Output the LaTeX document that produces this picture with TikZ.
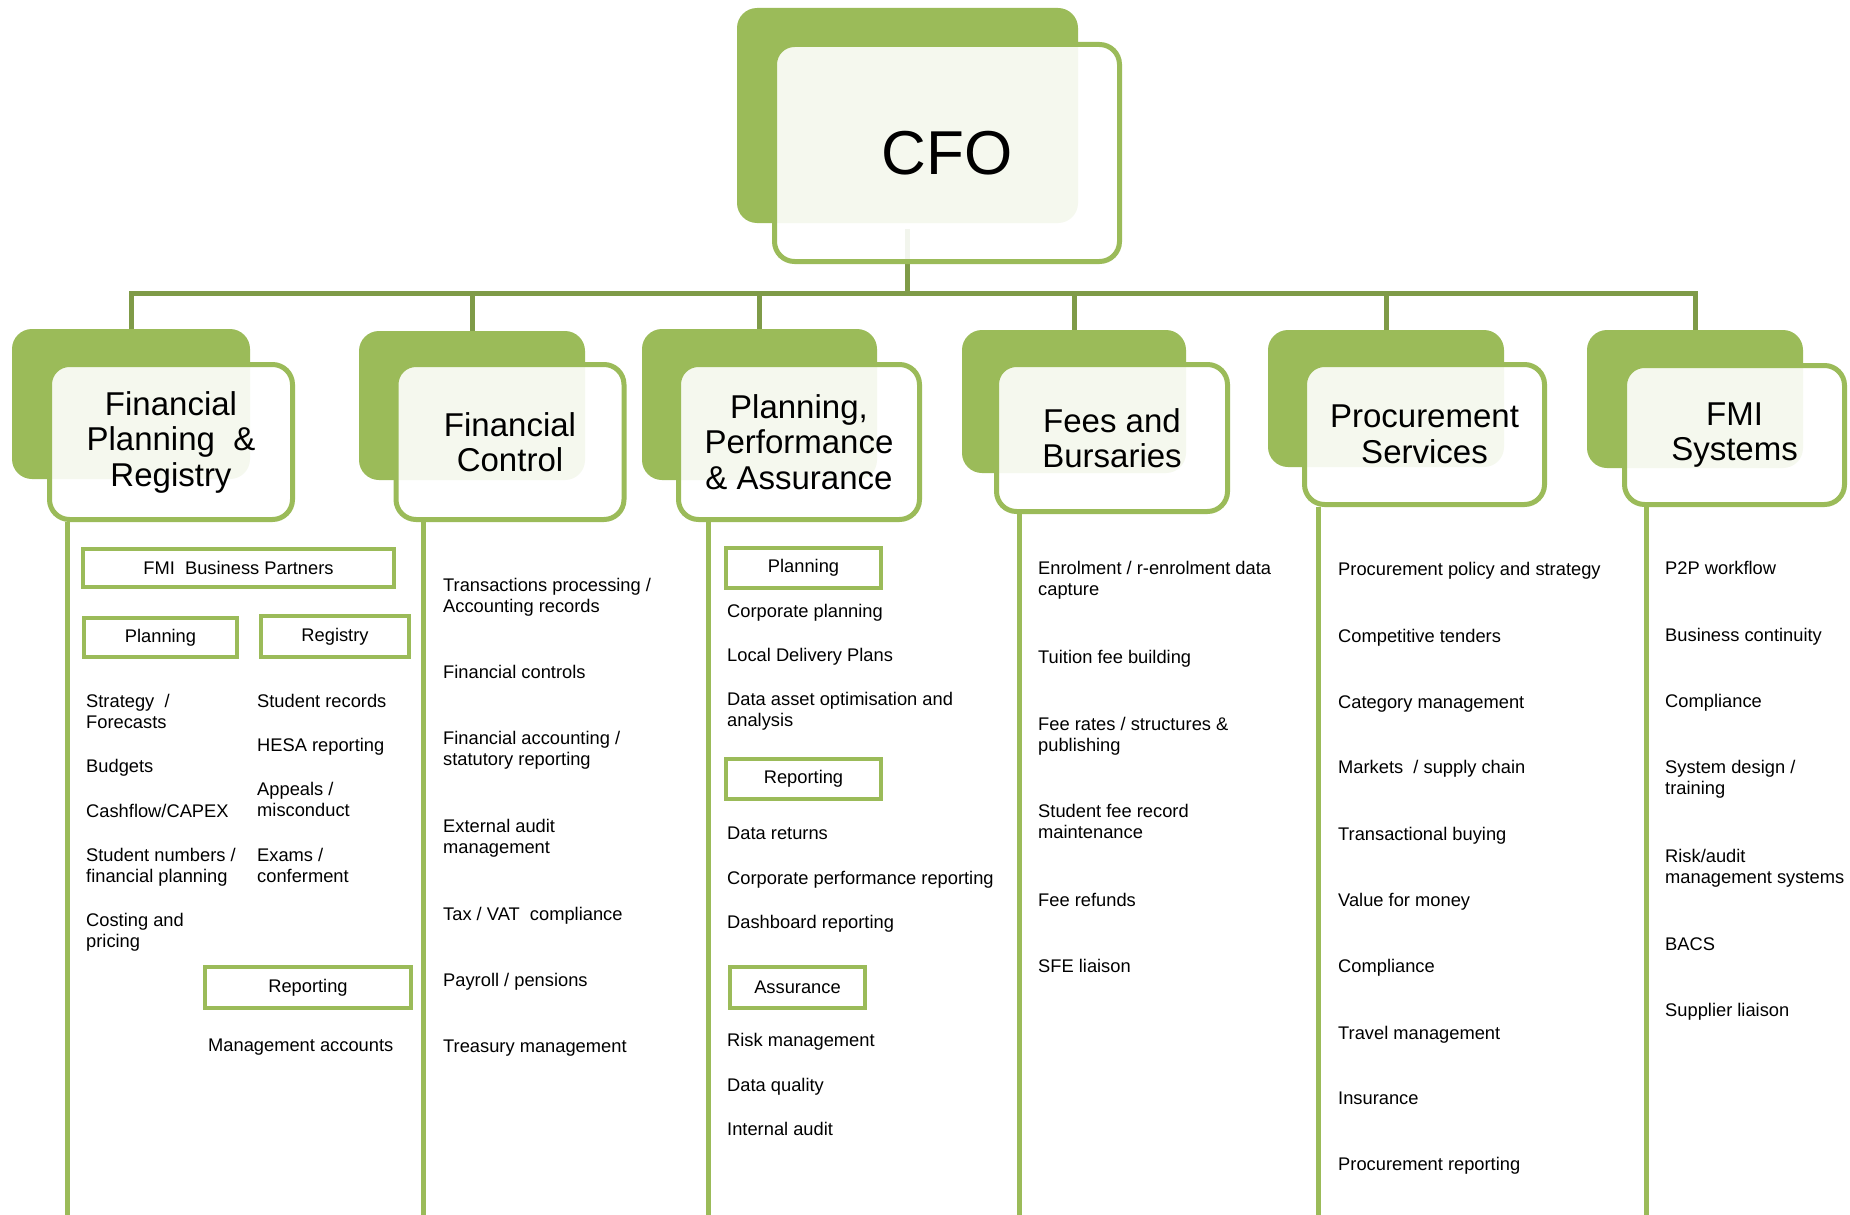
\documentclass[tikz,border=0pt]{standalone}
\usepackage{fontspec}
\setmainfont{Liberation Sans}
\usetikzlibrary{calc,backgrounds}
\definecolor{leaf}{HTML}{9BBB59}
\definecolor{stem}{HTML}{7F9B48}
\newcommand\listfont{\fontsize{18.3}{21.7}\selectfont}
\newcommand\headfont{\fontsize{33}{35.5}\selectfont}
\newcommand\twoln[2]{\vtop{\hbox{#1}\hbox{#2}}}
\begin{document}
\begin{tikzpicture}[x=1pt,y=-1pt,
  backbox/.style={fill=leaf,rounded corners=20pt,inner sep=0pt},
  frontbox/.style={draw=leaf,line width=5pt,fill=white,fill opacity=0.9,text opacity=1,
    rounded corners=20pt,inner sep=0pt,align=center,font=\headfont},
  tagbox/.style={draw=leaf,line width=4pt,fill=white,inner sep=0pt,font=\listfont},
  entry/.style={anchor=base west,inner sep=0pt,font=\listfont},
  stemline/.style={draw=stem,line width=5pt},
  leafline/.style={draw=leaf,line width=5pt}]

% ---- front boxes with their titles
\node[frontbox,minimum width=345pt,minimum height=217pt,font=\fontsize{62}{70}\selectfont] (cfoF) at (947,153) {CFO};
\node[frontbox,minimum width=243pt,minimum height=155pt] (fprF) at (171,442) {Financial\\Planning\ \ \&\\Registry};
\node[frontbox,minimum width=228pt,minimum height=155pt] (fcF) at (510,442) {Financial\\Control};
\node[frontbox,minimum width=241pt,minimum height=155pt] (ppaF) at (799,442) {Planning,\\Performance\\\& Assurance};
\node[frontbox,minimum width=231pt,minimum height=147pt] (feeF) at (1112,438) {Fees and\\Bursaries};
\node[frontbox,minimum width=240pt,minimum height=140pt] (proF) at (1424.5,434.5) {Procurement\\Services};
\node[frontbox,minimum width=220pt,minimum height=139pt] (sysF) at (1734.5,435) {FMI\\Systems};

\begin{pgfonlayer}{background}
  \fill[white] (0,0) rectangle (1850,1215);
  \useasboundingbox (0,0) rectangle (1850,1215);
  % ---- solid green back panels
  \node[backbox,minimum width=341pt,minimum height=215pt] (cfoB) at (907.5,115.5) {};
  \node[backbox,minimum width=238pt,minimum height=150pt] (fprB) at (131,404) {};
  \node[backbox,minimum width=226pt,minimum height=149pt] (fcB) at (472,405.5) {};
  \node[backbox,minimum width=235pt,minimum height=151pt] (ppaB) at (759.5,404.5) {};
  \node[backbox,minimum width=224pt,minimum height=143pt] (feeB) at (1074,401.5) {};
  \node[backbox,minimum width=236pt,minimum height=137pt] (proB) at (1386,398.5) {};
  \node[backbox,minimum width=216pt,minimum height=138pt] (sysB) at (1695,399) {};
  % ---- connectors from the CFO to each department
  \coordinate (bus) at (0,293.5);
  \draw[stemline] (fprB.north) -- (fprB.north |- bus) -- (sysB.north |- bus) -- (sysB.north);
  \draw[stemline] ($(cfoB.south)+(0,6)$) -- (cfoB.south |- bus);
  \draw[stemline] (fcB.north |- bus) -- (fcB.north);
  \draw[stemline] (ppaB.north |- bus) -- (ppaB.north);
  \draw[stemline] (feeB.north |- bus) -- (feeB.north);
  \draw[stemline] (proB.north |- bus) -- (proB.north);
  % ---- vertical rules under each department
  \coordinate (k1) at (67,1215);
  \coordinate (k2) at (423,1215);
  \coordinate (k3) at (708,1215);
  \coordinate (k4) at (1019,1215);
  \coordinate (k5) at (1318,1215);
  \coordinate (k6) at (1646,1215);
  \draw[leafline] (k1 |- fprF.south) -- (k1);
  \draw[leafline] (k2 |- fcF.south) -- (k2);
  \draw[leafline] (k3 |- ppaF.south) -- (k3);
  \draw[leafline] (k4 |- feeF.south) -- (k4);
  \draw[leafline] (k5 |- proF.south) -- (k5);
  \draw[leafline] (k6 |- sysF.south) -- (k6);
\end{pgfonlayer}

% ---- Financial Planning & Registry
\node[tagbox,minimum width=311pt,minimum height=38pt] (fmibp) at (238.5,568) {FMI\ \ Business Partners};
\node[tagbox,minimum width=153pt,minimum height=39pt] (fprplan) at (160.5,637.5) {Planning};
\node[tagbox,minimum width=148pt,minimum height=41pt] (fprreg) at (335,636.5) {Registry};
\node[tagbox,minimum width=206pt,minimum height=41pt] (fprrep) at (308,987.5) {Reporting};
\node[entry] (a1) at (86,707) {\twoln{Strategy\ \ /}{Forecasts}};
\node[entry] (a2) at (86,772) {Budgets};
\node[entry] (a3) at (86,817) {Cashflow/CAPEX};
\node[entry] (a4) at (86,861) {\twoln{Student numbers /}{financial planning}};
\node[entry] (a5) at (86,926) {\twoln{Costing and}{pricing}};
\node[entry] (b1) at (257,707) {Student records};
\node[entry] (b2) at (257,751) {HESA\ reporting};
\node[entry] (b3) at (257,795) {\twoln{Appeals /}{misconduct}};
\node[entry] (b4) at (257,861) {\twoln{Exams\ /}{conferment}};
\node[entry] (b5) at (208,1051) {Management accounts};

% ---- Financial Control
\node[entry] (c1) at (443,591) {\twoln{Transactions processing /}{Accounting\ records}};
\node[entry] (c2) at (443,678) {Financial controls};
\node[entry] (c3) at (443,744) {\twoln{Financial accounting /}{statutory\ reporting}};
\node[entry] (c4) at (443,832) {\twoln{External\ audit}{management}};
\node[entry] (c5) at (443,920) {Tax / VAT\ \ compliance};
\node[entry] (c6) at (443,986) {Payroll / pensions};
\node[entry] (c7) at (443,1052) {Treasury\ management};

% ---- Planning, Performance & Assurance
\node[tagbox,minimum width=155pt,minimum height=40pt] (ppaplan) at (803.5,568) {Planning};
\node[tagbox,minimum width=155pt,minimum height=40pt] (pparep) at (803.5,779) {Reporting};
\node[tagbox,minimum width=135pt,minimum height=41pt] (ppaass) at (797.5,987.5) {Assurance};
\node[entry] (d1) at (727,617) {Corporate\ planning};
\node[entry] (d2) at (727,661) {Local Delivery\ Plans};
\node[entry] (d3) at (727,705) {\twoln{Data\ asset optimisation and}{analysis}};
\node[entry] (d4) at (727,839) {Data returns};
\node[entry] (d5) at (727,884) {Corporate\ performance reporting};
\node[entry] (d6) at (727,928) {Dashboard reporting};
\node[entry] (d7) at (727,1046) {Risk management};
\node[entry] (d8) at (727,1091) {Data quality};
\node[entry] (d9) at (727,1135) {Internal audit};

% ---- Fees and Bursaries
\node[entry] (e1) at (1038,574) {\twoln{Enrolment / r-enrolment data}{capture}};
\node[entry] (e2) at (1038,663) {Tuition fee building};
\node[entry] (e3) at (1038,730) {\twoln{Fee rates / structures \&}{publishing}};
\node[entry] (e4) at (1038,817) {\twoln{Student fee record}{maintenance}};
\node[entry] (e5) at (1038,906) {Fee refunds};
\node[entry] (e6) at (1038,972) {SFE\ liaison};

% ---- Procurement Services
\node[entry] (f1) at (1338,575) {Procurement policy and strategy};
\node[entry] (f2) at (1338,642) {Competitive tenders};
\node[entry] (f3) at (1338,708) {Category\ management};
\node[entry] (f4) at (1338,773) {Markets\ \ / supply chain};
\node[entry] (f5) at (1338,840) {Transactional buying};
\node[entry] (f6) at (1338,906) {Value for money};
\node[entry] (f7) at (1338,972) {Compliance};
\node[entry] (f8) at (1338,1039) {Travel\ management};
\node[entry] (f9) at (1338,1104) {Insurance};
\node[entry] (f10) at (1338,1170) {Procurement reporting};

% ---- FMI Systems
\node[entry] (g1) at (1665,574) {P2P workflow};
\node[entry] (g2) at (1665,641) {Business continuity};
\node[entry] (g3) at (1665,707) {Compliance};
\node[entry] (g4) at (1665,773) {\twoln{System design /}{training}};
\node[entry] (g5) at (1665,862) {\twoln{Risk/audit}{management systems}};
\node[entry] (g6) at (1665,950) {BACS};
\node[entry] (g7) at (1665,1016) {Supplier liaison};
\end{tikzpicture}
\end{document}
